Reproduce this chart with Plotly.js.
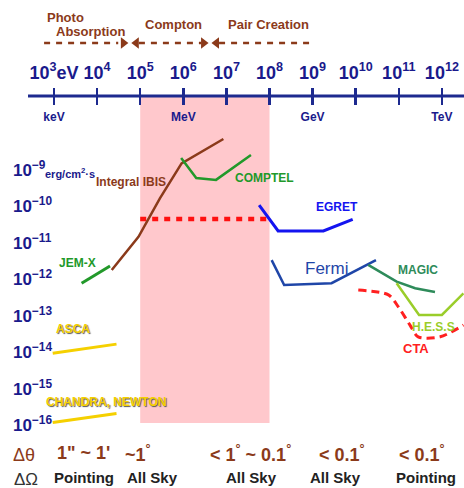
<!DOCTYPE html>
<html><head><meta charset="utf-8">
<script src="https://cdn.plot.ly/plotly-3.0.1.min.js"></script>
<style>html,body{margin:0;padding:0;background:#fff}#chart{width:464px;height:488px}</style>
</head><body><div id="chart"></div>
<script>
// ---- tick definitions ----
const energyTicks = [3, 4, 5, 6, 7, 8, 9, 10, 11, 12];            // log10 E [eV]
const energyTickText = ['10<sup>3</sup>eV','10<sup>4</sup>','10<sup>5</sup>','10<sup>6</sup>','10<sup>7</sup>',
  '10<sup>8</sup>','10<sup>9</sup>','10<sup>10</sup>','10<sup>11</sup>','10<sup>12</sup>'];
const unitTickText = ['keV','','','MeV','','','GeV','','','TeV'];
const fluxTicks = [-9, -10, -11, -12, -13, -14, -15, -16];        // log10 flux [erg/cm2/s]
const fluxTickText = ['10<sup>−9</sup>','10<sup>−10</sup>','10<sup>−11</sup>','10<sup>−12</sup>',
  '10<sup>−13</sup>','10<sup>−14</sup>','10<sup>−15</sup>','10<sup>−16</sup>'];

// ---- sensitivity curves (log10 E [eV], log10 flux) ----
const jemxE = [3.64, 4.30];                 const jemxF = [-12.10, -11.63];
const ibisE = [4.34, 4.96, 5.46, 5.96, 6.93]; const ibisF = [-11.74, -10.83, -9.77, -8.82, -8.15];
const comptelE = [5.95, 6.30, 6.76, 7.57];  const comptelF = [-8.67, -9.22, -9.27, -8.59];
const egretE = [7.76, 8.20, 9.25, 9.93];    const egretF = [-9.96, -10.67, -10.67, -10.35];
const fermiE = [8.05, 8.34, 9.44, 10.47];   const fermiF = [-11.47, -12.15, -12.10, -11.47];
const magicE = [10.29, 10.95, 11.38, 11.84]; const magicF = [-11.60, -12.06, -12.24, -12.34];
const hessE = [10.95, 11.47, 12.00, 12.50]; const hessF = [-12.10, -12.97, -12.97, -12.38];
const ctaE = [10.06, 10.76, 10.99, 11.26, 11.45, 11.96, 12.50];
const ctaF = [-12.29, -12.42, -12.75, -13.25, -13.57, -13.57, -13.25];
const ascaE = [2.97, 4.45];                 const ascaF = [-14.02, -13.77];
const chandraE = [2.97, 4.45];              const chandraF = [-15.92, -15.67];
const allSkyE = [5.0, 8.05];                const allSkyF = [-10.34, -10.34];
// shaded MeV gap (log10 E)
const gapE = [5.0, 8.0];
// interaction process ranges (log10 E)
const photoE = [2.77, 4.49];  const comptonE = [4.97, 6.42];  const pairE = [6.83, 8.94];
const processArrowY = -5.52;

// ---- helpers ----
const W = 464, H = 488;
const px = x => x / W, py = y => 1 - y / H;
const FN = '"Liberation Sans Narrow","Arial Narrow","Liberation Sans",Arial,sans-serif';
const NAVY = '#1a1a8c', BROWN = '#8b3a1a';
const axisY = -9 + (170 - 96) / 36.5;

function line(x, y, color, width, dash, shape) {
  return {x, y, type: 'scatter', mode: 'lines', hoverinfo: 'skip',
    line: {color, width, dash: dash || 'solid', shape: shape || 'linear', smoothing: 0.8}};
}
const traces = [
  line([2.397, 12.513], [axisY, axisY], '#1d2a8f', 3),
  line(allSkyE, allSkyF, '#ff1010', 4.5, '6px,6px'),
  line(jemxE, jemxF, '#22992a', 3),
  line(ibisE, ibisF, '#8b3a1a', 2.5),
  line(comptelE, comptelF, '#22992a', 2.5),
  line(egretE, egretF, '#1414f0', 3),
  line(fermiE, fermiF, '#1f46a8', 2.5),
  line(magicE, magicF, '#2e8b5a', 2.5),
  line(hessE, hessF, '#9acd2a', 2.5),
  line(ctaE, ctaF, '#ff2020', 3, '8px,5px', 'spline'),
  line(ascaE, ascaF, '#f5d000', 3),
  line(chandraE, chandraF, '#f5d000', 3),
  line(photoE, [processArrowY, processArrowY], BROWN, 2.5, '6px,6px'),
  line(comptonE, [processArrowY, processArrowY], BROWN, 2.5, '6px,6px'),
  line(pairE, [processArrowY, processArrowY], BROWN, 2.5, '6px,6px'),
  {x: [photoE[1] + 0.12, comptonE[0] - 0.06, comptonE[1] + 0.05, pairE[0] - 0.06],
   y: [processArrowY, processArrowY, processArrowY, processArrowY],
   type: 'scatter', mode: 'markers', hoverinfo: 'skip',
   marker: {symbol: ['triangle-right','triangle-left','triangle-right','triangle-left'], size: 10, color: BROWN}}
];
traces[0].xaxis = 'x2';

function ann(x, y, text, color, size, opts) {
  return Object.assign({xref: 'paper', yref: 'paper', x: px(x), y: py(y), text, showarrow: false,
    xanchor: 'center', yanchor: 'middle',
    font: {family: FN, size, color, weight: 'bold'}}, opts || {});
}
const shadow = '1px 1px 1px #555';
const annotations = [
  ann(65, 17, 'Photo', BROWN, 13),
  ann(90, 32, 'Absorption', BROWN, 13),
  ann(173, 24, 'Compton', BROWN, 13),
  ann(268, 24, 'Pair Creation', BROWN, 13),
  ann(70, 173, 'erg/cm<sup>2</sup>·s', NAVY, 11),
  ann(131, 182, 'Integral IBIS', BROWN, 12),
  ann(264, 178, 'COMPTEL', '#22992a', 12),
  ann(337, 207, 'EGRET', '#1414f0', 12),
  ann(326, 268, 'Fermi', '#1f46a8', 16, {font: {family: FN, size: 17, color: '#1f46a8'}}),
  ann(418, 270, 'MAGIC', '#2e8b5a', 12),
  ann(433, 327, 'H.E.S.S', '#9acd2a', 12),
  ann(416, 348, 'CTA', '#ff2020', 13),
  ann(77, 263, 'JEM-X', '#22992a', 12),
  ann(73, 329, 'ASCA', '#f5d000', 12, {font: {family: FN, size: 12, color: '#f5d000', weight: 'bold', shadow}}),
  ann(106, 402, 'CHANDRA, NEWTON', '#f5d000', 12, {font: {family: FN, size: 12, color: '#f5d000', weight: 'bold', shadow}}),
  ann(24, 455, 'Δθ', BROWN, 18, {font: {family: '"Liberation Sans",Arial,sans-serif', size: 18, color: BROWN}}),
  ann(26, 479, 'ΔΩ', '#333', 17, {font: {family: '"Liberation Sans",Arial,sans-serif', size: 17, color: '#333'}}),
  ann(83, 453, '1" ~ 1\'', BROWN, 18),
  ann(138, 453, '~1<sup>°</sup>', BROWN, 18),
  ann(250, 453, '< 1<sup>°</sup> ~ 0.1<sup>°</sup>', BROWN, 18),
  ann(342, 453, '< 0.1<sup>°</sup>', BROWN, 18),
  ann(422, 453, '< 0.1<sup>°</sup>', BROWN, 18),
  ann(84, 477, 'Pointing', '#222', 15),
  ann(152, 477, 'All Sky', '#222', 15),
  ann(251, 477, 'All Sky', '#222', 15),
  ann(335, 477, 'All Sky', '#222', 15),
  ann(426, 477, 'Pointing', '#222', 15)
];

const layout = {
  width: W, height: H, margin: {l: 0, r: 0, t: 0, b: 0},
  paper_bgcolor: '#fff', plot_bgcolor: 'rgba(0,0,0,0)', showlegend: false,
  xaxis: {range: [1.747, 12.513], domain: [0, 1], anchor: 'free', position: py(96), side: 'top',
    showgrid: false, zeroline: false, showline: false, tickmode: 'array', tickangle: 0,
    tickvals: energyTicks, ticktext: energyTickText, ticks: 'outside', ticklen: 8, tickwidth: 2.5,
    tickcolor: '#1d2a8f', ticklabelstandoff: 2,
    tickfont: {family: FN, size: 18, color: NAVY, weight: 'bold'}, fixedrange: true},
  xaxis2: {matches: 'x', overlaying: 'x', anchor: 'free', position: py(96), side: 'bottom',
    showgrid: false, zeroline: false, showline: false, tickmode: 'array', tickangle: 0,
    tickvals: energyTicks, ticktext: unitTickText, ticks: 'outside', ticklen: 8, tickwidth: 2.5,
    tickcolor: '#1d2a8f', ticklabelstandoff: 2,
    tickfont: {family: FN, size: 12, color: NAVY, weight: 'bold'}, fixedrange: true},
  yaxis: {range: [-17.712, -4.342], domain: [0, 1], anchor: 'free', position: 0, side: 'right',
    showgrid: false, zeroline: false, showline: false, tickmode: 'array',
    tickvals: fluxTicks, ticktext: fluxTickText, ticks: '',
    ticklabelstandoff: 12,
    tickfont: {family: FN, size: 17, color: NAVY, weight: 'bold'}, fixedrange: true},
  shapes: [{type: 'rect', xref: 'x', yref: 'paper', x0: gapE[0], x1: gapE[1], y0: py(423), y1: py(97),
    fillcolor: '#ffc8cc', line: {width: 0}, layer: 'below'}],
  annotations
};
Plotly.newPlot('chart', traces, layout, {displayModeBar: false, staticPlot: true});
</script></body></html>
